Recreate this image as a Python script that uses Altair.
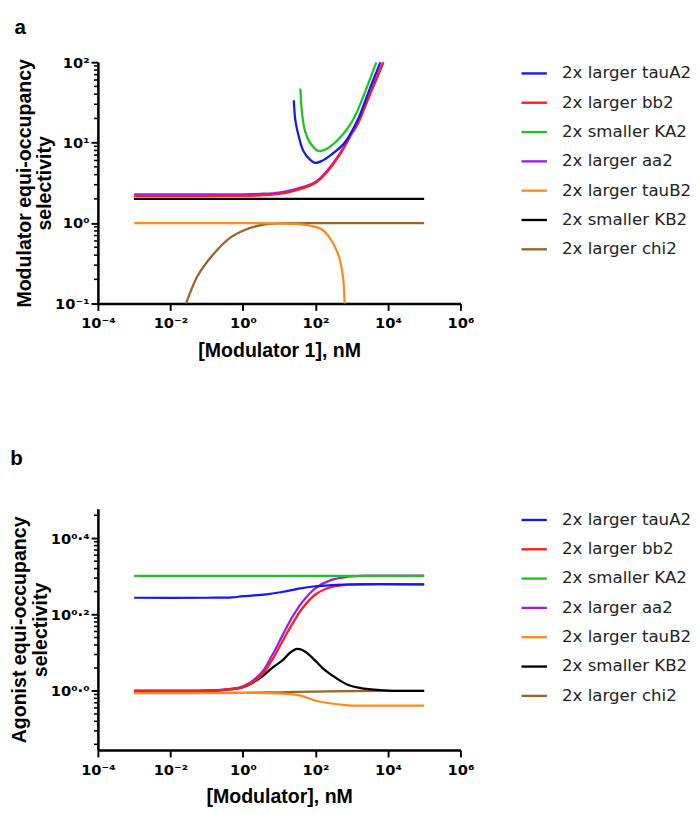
import altair as alt
import pandas as pd
import numpy as np

# ---------------- data ----------------
LEGEND = ["2x larger tauA2", "2x larger bb2", "2x smaller KA2", "2x larger aa2",
          "2x larger tauB2", "2x smaller KB2", "2x larger chi2"]
COLORS = ["#1414ff", "#ff1c1c", "#1ec41e", "#9c1cf5", "#ff8a1c", "#000000", "#9a6428"]
# drawing order, bottom -> top
DRAW = ["2x larger chi2", "2x larger tauB2", "2x smaller KB2", "2x larger aa2",
        "2x larger bb2", "2x larger tauA2", "2x smaller KA2"]

# Panel a
A_tauA2_x = [25.4, 28, 34.7, 47, 72, 98, 148, 275, 630, 1450, 3000, 6200]
A_tauA2_y = [33.7, 18.9, 11.9, 7.8, 6.1, 5.6, 5.9, 7.1, 9.9, 19, 44, 100]
A_bb2_x = [0.001, 0.01, 0.1, 1, 3, 10, 30, 100, 200, 500, 1000, 1450, 3000, 7600]
A_bb2_y = [2.17, 2.17, 2.17, 2.18, 2.21, 2.3, 2.57, 3.15, 4.2, 7.4, 12.8, 16.8, 37, 100]
A_KA2_x = [38.5, 43, 52, 72, 120, 224, 510, 1000, 1450, 3000, 4800]
A_KA2_y = [47, 22.8, 13.8, 9.9, 7.9, 8.6, 11.9, 18, 25, 57, 100]
A_aa2_x = [0.001, 0.01, 0.1, 1, 3, 10, 30, 100, 200, 500, 1000, 1450, 3000, 7400]
A_aa2_y = [2.27, 2.27, 2.27, 2.28, 2.31, 2.4, 2.67, 3.25, 4.35, 7.6, 13, 17, 37.5, 100]
A_tauB2_x = [0.001, 0.1, 1, 10, 28, 80, 148, 224, 417, 573, 640, 680]
A_tauB2_y = [1.0, 1.0, 0.998, 0.99, 0.975, 0.92, 0.84, 0.70, 0.42, 0.22, 0.1, 0.05]
A_KB2_x = [0.001, 1e5]
A_KB2_y = [2.0, 2.0]
A_chi2_x = [0.02, 0.027, 0.056, 0.16, 0.45, 1.26, 3.5, 10, 100, 1e5]
A_chi2_y = [0.072, 0.1, 0.22, 0.42, 0.66, 0.84, 0.95, 0.99, 1.0, 1.0]

# Panel b
B_tauA2_x = [0.001, 0.1, 0.5, 1, 4.4, 12, 35, 100, 275, 1000, 1e5]
B_tauA2_y = [1.754, 1.754, 1.758, 1.77, 1.791, 1.816, 1.854, 1.88, 1.892, 1.901, 1.901]
B_bb2_x = [0.001, 0.1, 0.3, 1, 3.16, 6.3, 12.3, 22.9, 42.7, 97.7, 275, 776, 1e5]
B_bb2_y = [1.0, 1.002, 1.007, 1.023, 1.096, 1.202, 1.349, 1.496, 1.641, 1.786, 1.871, 1.897, 1.901]
B_KA2_x = [0.001, 1e5]
B_KA2_y = [2.0, 2.0]
B_aa2_x = [0.001, 0.1, 0.3, 1, 3.16, 6.3, 12.3, 22.9, 42.7, 97.7, 275, 776, 4000, 1e5]
B_aa2_y = [1.0, 1.002, 1.008, 1.028, 1.112, 1.236, 1.396, 1.56, 1.706, 1.854, 1.954, 1.991, 2.004, 2.004]
B_tauB2_x = [0.001, 1, 5, 12, 35, 98, 275, 776, 3000, 1e5]
B_tauB2_y = [0.988, 0.988, 0.987, 0.984, 0.975, 0.944, 0.927, 0.917, 0.915, 0.915]
B_KB2_x = [0.001, 0.1, 0.3, 1, 3.16, 6.3, 12.3, 20, 31.6, 50, 97.7, 158, 275, 776, 2190, 1e4, 1e5]
B_KB2_y = [1.0, 1.002, 1.007, 1.023, 1.086, 1.148, 1.202, 1.259, 1.288, 1.271, 1.202, 1.148, 1.102,
           1.038, 1.014, 1.002, 1.0]
B_chi2_x = [0.001, 1, 10, 100, 1000, 1e5]
B_chi2_y = [0.987, 0.9886, 0.992, 0.9965, 0.999, 1.0]

# axes
X_TICKS = [1e-4, 1e-2, 1, 1e2, 1e4, 1e6]
X_LABELS = ["10⁻⁴", "10⁻²", "10⁰", "10²", "10⁴", "10⁶"]
A_Y_TICKS = [0.1, 1, 10, 100]
A_Y_LABELS = ["10⁻¹", "10⁰", "10¹", "10²"]
B_Y_TICKS = [1.0, 10 ** 0.2, 10 ** 0.4]
B_Y_LABELS = ["10⁰·⁰", "10⁰·²", "10⁰·⁴"]
B_Y_DOMAIN = [0.7, 3.0]

A_SERIES = {
    "2x larger tauA2": (A_tauA2_x, A_tauA2_y), "2x larger bb2": (A_bb2_x, A_bb2_y),
    "2x smaller KA2": (A_KA2_x, A_KA2_y), "2x larger aa2": (A_aa2_x, A_aa2_y),
    "2x larger tauB2": (A_tauB2_x, A_tauB2_y), "2x smaller KB2": (A_KB2_x, A_KB2_y),
    "2x larger chi2": (A_chi2_x, A_chi2_y),
}
B_SERIES = {
    "2x larger tauA2": (B_tauA2_x, B_tauA2_y), "2x larger bb2": (B_bb2_x, B_bb2_y),
    "2x smaller KA2": (B_KA2_x, B_KA2_y), "2x larger aa2": (B_aa2_x, B_aa2_y),
    "2x larger tauB2": (B_tauB2_x, B_tauB2_y), "2x smaller KB2": (B_KB2_x, B_KB2_y),
    "2x larger chi2": (B_chi2_x, B_chi2_y),
}


def frame(series):
    rows = []
    for name in DRAW:
        xs, ys = series[name]
        for x, y in zip(xs, ys):
            rows.append({"series": name, "x": x, "y": y})
    return pd.DataFrame(rows)


# minor ticks (axis decoration)
A_MINOR = [k * 10.0 ** e for e in (-1, 0, 1) for k in range(2, 10)]
B_MINOR = [v for v in (10 ** (a + 0.2 * np.log10(k)) for a in (-0.2, 0.0, 0.2, 0.4) for k in range(2, 10))
           if B_Y_DOMAIN[0] < v < B_Y_DOMAIN[1]]

FONT = "Liberation Sans"
TICKFONT = "DejaVu Sans"


def lab_expr(labels, idx):
    arr = "[" + ",".join("'" + s + "'" for s in labels) + "]"
    return arr + "[" + idx + "]"


def panel(series, letter, xtitle, ytitle, ydomain, yticks, ylabexpr, minor, toff):
    xscale = alt.Scale(type="log", domain=[1e-4, 1e6])
    yscale = alt.Scale(type="log", domain=ydomain)
    xaxis = alt.Axis(values=X_TICKS, labelExpr=lab_expr(X_LABELS, "round((log(datum.value)/LN10+4)/2)"),
                     title=xtitle, labelPadding=6, titlePadding=10, labelFlush=False)
    yaxis = alt.Axis(values=yticks, labelExpr=ylabexpr, title=ytitle, labelPadding=2,
                     titlePadding=0, titleLineHeight=21)
    lines = alt.Chart(frame(series)).mark_line(clip=True, strokeWidth=2.3, interpolate="catmull-rom").encode(
        x=alt.X("x:Q", scale=xscale, axis=xaxis),
        y=alt.Y("y:Q", scale=yscale, axis=yaxis),
        color=alt.Color("series:N", scale=alt.Scale(domain=LEGEND, range=COLORS), sort=LEGEND,
                        legend=alt.Legend(orient="none", legendX=432, legendY=-3, title=None,
                                          symbolType="stroke", symbolSize=676, symbolStrokeWidth=2.4,
                                          labelFont="DejaVu Sans", labelFontSize=17, labelColor="#222222",
                                          labelOffset=14, rowPadding=7, padding=0, labelLimit=300)),
    )
    ticks = alt.Chart(pd.DataFrame({"y": minor})).mark_rule(color="black", strokeWidth=1.6).encode(
        y=alt.Y("y:Q", scale=yscale, axis=yaxis),
        x=alt.value(0), x2=alt.value(-4),
    )
    return alt.layer(ticks, lines).properties(
        width=371, height=247,
        title=alt.TitleParams(letter, anchor="start", frame="bounds", font=FONT, fontSize=21,
                              fontWeight="bold", color="black", offset=toff),
    )


pa = panel(A_SERIES, "a", "[Modulator 1], nM", ["Modulator equi-occupancy", "selectivity"],
           [0.1, 100], A_Y_TICKS, lab_expr(A_Y_LABELS, "round(log(datum.value)/LN10)+1"), A_MINOR, 18)
pb = panel(B_SERIES, "b", "[Modulator], nM", ["Agonist equi-occupancy", "selectivity"],
           B_Y_DOMAIN, B_Y_TICKS, lab_expr(B_Y_LABELS, "round(log(datum.value)/LN10*5)"), B_MINOR, 38)

chart = alt.vconcat(pa, pb, spacing=90).resolve_scale(color="independent").resolve_legend(
    color="independent"
).configure_view(stroke=None).configure_axis(
    domainColor="black", domainWidth=2.6, tickColor="black", tickWidth=2, tickSize=7, grid=False,
    labelFont=TICKFONT, labelFontWeight="bold", labelFontSize=15, labelColor="black",
    titleFont=FONT, titleFontWeight="bold", titleFontSize=20, titleColor="black",
).properties(padding={"left": 2, "top": 0, "right": 0, "bottom": 0})

chart.save("out.html", embed_options={"renderer": "svg", "actions": False})
